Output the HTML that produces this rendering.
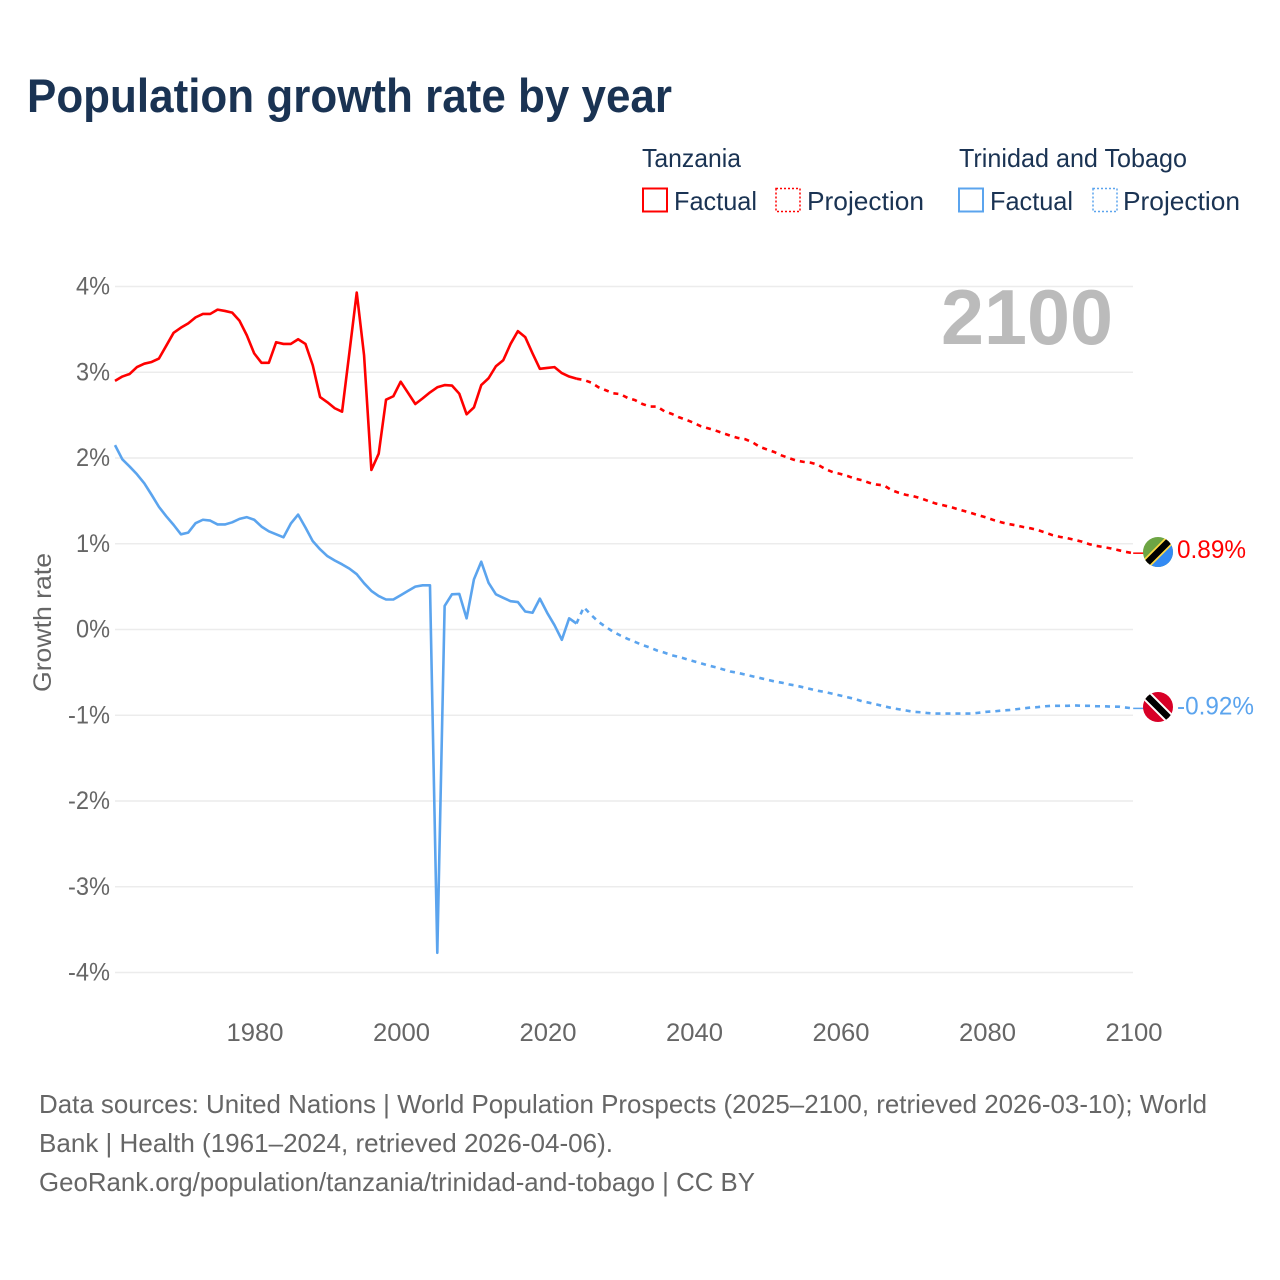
<!DOCTYPE html>
<html lang="en">
<head>
<meta charset="utf-8">
<title>Population growth rate by year</title>
<style>
html,body{margin:0;padding:0;background:#fff;}
svg{display:block;font-family:"Liberation Sans",sans-serif;}
</style>
</head>
<body>
<svg id="chart" xmlns="http://www.w3.org/2000/svg" width="1280" height="1280" viewBox="0 0 1280 1280">
  <rect x="0" y="0" width="1280" height="1280" fill="#ffffff"/>
  <text x="27" y="112" font-size="47" font-weight="700" fill="#1a3353" textLength="645" lengthAdjust="spacingAndGlyphs">Population growth rate by year</text>

  <g font-size="26" fill="#1a3353">
    <text x="642" y="167" textLength="99" lengthAdjust="spacingAndGlyphs">Tanzania</text>
    <text x="959" y="167" textLength="228" lengthAdjust="spacingAndGlyphs">Trinidad and Tobago</text>
    <rect x="643" y="188.5" width="24" height="23" fill="none" stroke="#ff0000" stroke-width="2"/>
    <text x="674" y="210" textLength="83" lengthAdjust="spacingAndGlyphs">Factual</text>
    <rect x="776" y="188.5" width="24" height="23" fill="none" stroke="#ff0000" stroke-width="1.5" stroke-dasharray="2 2"/>
    <text x="807" y="210" textLength="117" lengthAdjust="spacingAndGlyphs">Projection</text>
    <rect x="959" y="188.5" width="24" height="23" fill="none" stroke="#5ba4ee" stroke-width="2"/>
    <text x="990" y="210" textLength="83" lengthAdjust="spacingAndGlyphs">Factual</text>
    <rect x="1093" y="188.5" width="24" height="23" fill="none" stroke="#5ba4ee" stroke-width="1.5" stroke-dasharray="2 2"/>
    <text x="1123" y="210" textLength="117" lengthAdjust="spacingAndGlyphs">Projection</text>
  </g>

  <g id="grid"></g>
  <g id="yLabels" font-size="25" fill="#666666" text-anchor="end"></g>
  <g id="xLabels" font-size="25" fill="#666666" text-anchor="middle"></g>
  <text transform="translate(51,692) rotate(-90)" font-size="25" fill="#666666" textLength="139" lengthAdjust="spacingAndGlyphs">Growth rate</text>

  <text id="yearLabel" x="941" y="344" font-size="78" font-weight="700" fill="#bbbbbb" textLength="172" lengthAdjust="spacingAndGlyphs">2100</text>

  <g id="series"></g>

  <defs>
    <clipPath id="flagClipTz"><circle id="clipTz" cx="1158" cy="552" r="15"/></clipPath>
    <clipPath id="flagClipTt"><circle id="clipTt" cx="1158" cy="707" r="15"/></clipPath>
  </defs>
  <g id="flagTz">
    <g clip-path="url(#flagClipTz)">
      <rect x="1140" y="534" width="36" height="36" fill="#6da544"/>
      <polygon points="1178,534 1178,572 1140,572" fill="#338af3"/>
      <line x1="1140" y1="570" x2="1176" y2="534" stroke="#ffda44" stroke-width="10"/>
      <line x1="1140" y1="570" x2="1176" y2="534" stroke="#000000" stroke-width="6.5"/>
    </g>
  </g>
  <g id="flagTt">
    <g clip-path="url(#flagClipTt)">
      <rect x="1140" y="689" width="36" height="36" fill="#d80027"/>
      <line x1="1140" y1="689" x2="1176" y2="725" stroke="#ffffff" stroke-width="10.5"/>
      <line x1="1140" y1="689" x2="1176" y2="725" stroke="#000000" stroke-width="6.5"/>
    </g>
  </g>
  <text id="endTz" x="1177" y="558" font-size="25" fill="#ff0000" textLength="69" lengthAdjust="spacingAndGlyphs"></text>
  <text id="endTt" x="1177" y="714" font-size="25" fill="#5ba4ee" textLength="77" lengthAdjust="spacingAndGlyphs"></text>

  <g font-size="26" fill="#666666">
    <text x="39" y="1113" textLength="1168" lengthAdjust="spacingAndGlyphs">Data sources: United Nations | World Population Prospects (2025–2100, retrieved 2026-03-10); World</text>
    <text x="39" y="1152" textLength="574" lengthAdjust="spacingAndGlyphs">Bank | Health (1961–2024, retrieved 2026-04-06).</text>
    <text x="39" y="1191" textLength="716" lengthAdjust="spacingAndGlyphs">GeoRank.org/population/tanzania/trinidad-and-tobago | CC BY</text>
  </g>
</svg>
<script>
const factualStartYear = 1961;
const projectionStartYear = 2024;
const xTickYears = [1980, 2000, 2020, 2040, 2060, 2080, 2100];
const yTickValues = [4, 3, 2, 1, 0, -1, -2, -3, -4];
const tanzaniaFactual = [
  2.90,2.95,2.98,3.06,3.10,3.12,3.16,3.31,3.46,3.52,
  3.57,3.64,3.68,3.68,3.73,3.715,3.695,3.60,3.43,3.22,
  3.11,3.11,3.35,3.33,3.33,3.385,3.33,3.08,2.71,2.65,
  2.58,2.54,3.23,3.93,3.20,1.86,2.05,2.68,2.72,2.89,
  2.76,2.63,2.695,2.765,2.825,2.85,2.845,2.75,2.51,2.59,
  2.85,2.93,3.07,3.14,3.33,3.48,3.41,3.22,3.04,3.05,
  3.06,2.99,2.95,2.925
];
const trinidadFactual = [
  2.15,1.985,1.90,1.81,1.705,1.57,1.43,1.32,1.22,1.11,
  1.13,1.24,1.28,1.27,1.225,1.225,1.25,1.29,1.31,1.28,
  1.20,1.145,1.11,1.075,1.235,1.34,1.19,1.03,0.935,0.855,
  0.805,0.76,0.71,0.645,0.54,0.45,0.39,0.35,0.35,0.40,
  0.45,0.50,0.515,0.515,-3.77,0.275,0.41,0.415,0.13,0.585,
  0.79,0.545,0.41,0.37,0.33,0.32,0.21,0.195,0.36,0.195,
  0.05,-0.12,0.13,0.07
];
const tanzaniaProjection = [
  2.925,2.91,2.88,2.825,2.79,2.755,2.745,2.70,2.675,2.63,2.60,
  2.60,2.545,2.515,2.475,2.445,2.41,2.37,2.345,2.32,2.29,
  2.26,2.235,2.22,2.185,2.13,2.10,2.07,2.03,2.00,1.97,
  1.955,1.945,1.92,1.87,1.835,1.815,1.79,1.76,1.74,1.71,
  1.69,1.68,1.625,1.595,1.57,1.555,1.53,1.50,1.47,1.45,
  1.43,1.405,1.38,1.355,1.33,1.305,1.275,1.25,1.23,1.215,
  1.195,1.18,1.16,1.13,1.10,1.08,1.065,1.045,1.025,0.995,
  0.975,0.96,0.945,0.925,0.905,0.89
];
const trinidadProjection = [
  0.07,0.26,0.17,0.09,0.03,-0.025,-0.07,-0.11,-0.145,-0.18,-0.21,
  -0.245,-0.27,-0.30,-0.32,-0.345,-0.37,-0.395,-0.42,-0.44,-0.465,
  -0.49,-0.505,-0.525,-0.545,-0.565,-0.585,-0.605,-0.62,-0.64,-0.655,
  -0.675,-0.695,-0.715,-0.73,-0.75,-0.77,-0.79,-0.81,-0.837,-0.855,
  -0.875,-0.895,-0.915,-0.93,-0.945,-0.96,-0.965,-0.975,-0.98,-0.98,
  -0.98,-0.98,-0.98,-0.98,-0.97,-0.96,-0.955,-0.945,-0.94,-0.93,
  -0.92,-0.91,-0.905,-0.895,-0.89,-0.89,-0.89,-0.885,-0.89,-0.89,
  -0.895,-0.895,-0.90,-0.90,-0.91,-0.92
];

const NS = 'http://www.w3.org/2000/svg';
function xScale(year) { return 115 + (year - 1961) * 7.325; }
function yScale(v) { return 629.5 - v * 85.75; }
function make(tag, attrs) {
  const el = document.createElementNS(NS, tag);
  for (const k in attrs) el.setAttribute(k, attrs[k]);
  return el;
}
function pathFor(values, startYear) {
  return values.map(function (v, i) {
    return (i ? 'L' : 'M') + xScale(startYear + i).toFixed(2) + ' ' + yScale(v).toFixed(2);
  }).join(' ');
}

const grid = document.getElementById('grid');
const yLabels = document.getElementById('yLabels');
yTickValues.forEach(function (v) {
  const line = make('line', { x1: 115, x2: 1133, y1: yScale(v), y2: yScale(v), stroke: '#ececec', 'stroke-width': 1.6 });
  
  
  grid.appendChild(line);
  const label = make('text', { x: 110, y: yScale(v) + 8, textLength: v < 0 ? 42 : 34, lengthAdjust: 'spacingAndGlyphs' });
  
  
  label.textContent = v + '%';
  yLabels.appendChild(label);
});

const xLabels = document.getElementById('xLabels');
xTickYears.forEach(function (year) {
  const label = make('text', { x: xScale(year) + 0.8, y: 1041, textLength: 57, lengthAdjust: 'spacingAndGlyphs' });
  
  
  label.textContent = year;
  xLabels.appendChild(label);
});

const seriesGroup = document.getElementById('series');
function addLine(values, startYear, color, dashed, name) {
  const attrs = { d: pathFor(values, startYear), fill: 'none', stroke: color, 'stroke-width': 2.6, 'stroke-linejoin': 'round' };
  if (dashed) attrs['stroke-dasharray'] = '5 5';
  const path = make('path', attrs);
  
  
  seriesGroup.appendChild(path);
}
addLine(trinidadFactual, factualStartYear, '#5ba4ee', false, 'trinidad-factual-line');
addLine(trinidadProjection, projectionStartYear, '#5ba4ee', true, 'trinidad-projection-line');
addLine(tanzaniaFactual, factualStartYear, '#ff0000', false, 'tanzania-factual-line');
addLine(tanzaniaProjection, projectionStartYear, '#ff0000', true, 'tanzania-projection-line');

const tzEnd = tanzaniaProjection[tanzaniaProjection.length - 1];
const ttEnd = trinidadProjection[trinidadProjection.length - 1];
function addConnector(v, color, name) {
  const line = make('line', { x1: xScale(2100), x2: 1144, y1: yScale(v), y2: yScale(v), stroke: color, 'stroke-width': 1.5 });
  
  
  seriesGroup.appendChild(line);
}
addConnector(tzEnd, '#ff0000', 'tanzania-end-connector');
addConnector(ttEnd, '#5ba4ee', 'trinidad-end-connector');

document.getElementById('endTz').textContent = tzEnd.toFixed(2) + '%';
document.getElementById('endTt').textContent = ttEnd.toFixed(2) + '%';
document.getElementById('endTz').setAttribute('y', yScale(tzEnd) + 5);
document.getElementById('endTt').setAttribute('y', yScale(ttEnd) + 6);
document.getElementById('flagTz').setAttribute('transform', 'translate(0,' + (yScale(tzEnd) - 1.2 - 552) + ')');
document.getElementById('flagTt').setAttribute('transform', 'translate(0,' + (yScale(ttEnd) + 1.4 - 707 - 2.8) + ')');
</script>
</body>
</html>
